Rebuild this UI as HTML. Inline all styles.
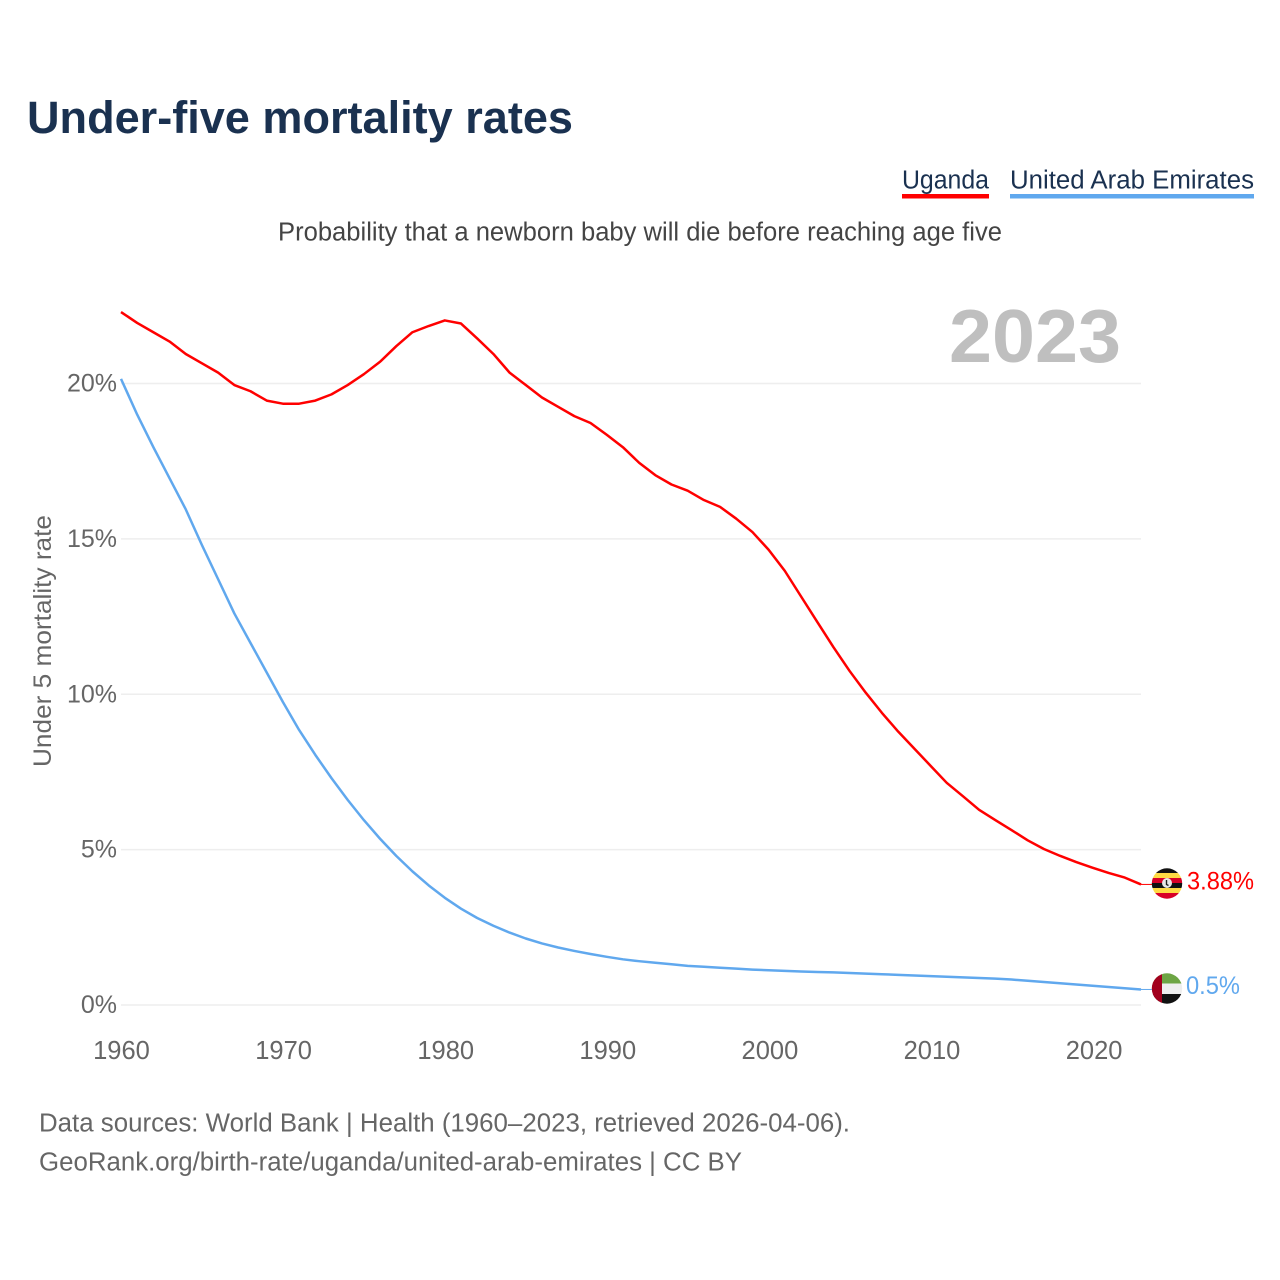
<!DOCTYPE html>
<html lang="en">
<head>
<meta charset="utf-8">
<title>Under-five mortality rates</title>
<style>
html,body{margin:0;padding:0;background:#fff;width:1280px;height:1280px;overflow:hidden}
svg{display:block}
text{font-family:"Liberation Sans",sans-serif}
</style>
</head>
<body>
<svg id="chart" xmlns="http://www.w3.org/2000/svg" width="1280" height="1280" viewBox="0 0 1280 1280">
  <defs>
    <clipPath id="clip-ug"><circle cx="1167" cy="883.5" r="15.2"/></clipPath>
    <clipPath id="clip-ae"><circle cx="1167" cy="988.5" r="15.2"/></clipPath>
  </defs>
  <rect width="1280" height="1280" fill="#fff"/>
  <text x="27" y="133" font-size="45" font-weight="700" fill="#1a3150" textLength="546" lengthAdjust="spacingAndGlyphs">Under-five mortality rates</text>

  <text x="902" y="188.5" font-size="25.5" fill="#1a3150" textLength="87" lengthAdjust="spacingAndGlyphs">Uganda</text>
  <rect x="902" y="194" width="87" height="4.5" fill="#ff0000"/>
  <text x="1010" y="188.5" font-size="25.5" fill="#1a3150" textLength="244" lengthAdjust="spacingAndGlyphs">United Arab Emirates</text>
  <rect x="1010" y="194" width="244" height="4.5" fill="#60a8ee"/>

  <text x="278" y="240.5" font-size="25.5" fill="#444444" textLength="724" lengthAdjust="spacingAndGlyphs">Probability that a newborn baby will die before reaching age five</text>

  <text x="949" y="362" font-size="75" font-weight="700" fill="#bfbfbf" textLength="172" lengthAdjust="spacingAndGlyphs">2023</text>

  <g id="grid"></g>
  <g id="y-ticks"></g>
  <g id="x-ticks"></g>

  <text transform="translate(51,767) rotate(-90)" x="0" y="0" font-size="25" fill="#666666" textLength="252" lengthAdjust="spacingAndGlyphs">Under 5 mortality rate</text>

  <g id="series"></g>

  <g clip-path="url(#clip-ug)">
    <rect x="1150" y="867" width="34" height="6" fill="#111111"/>
    <rect x="1150" y="873" width="34" height="5" fill="#ffda44"/>
    <rect x="1150" y="878" width="34" height="5" fill="#d80027"/>
    <rect x="1150" y="883" width="34" height="5" fill="#111111"/>
    <rect x="1150" y="888" width="34" height="5" fill="#ffda44"/>
    <rect x="1150" y="893" width="34" height="7" fill="#d80027"/>
    <circle cx="1167" cy="883" r="5" fill="#e8e8e8"/>
    <path d="M1166.5 880v4.5l2 1" fill="none" stroke="#222222" stroke-width="1.4"/>
  </g>
  <g clip-path="url(#clip-ae)">
    <rect x="1150" y="973" width="34" height="11" fill="#6da544"/>
    <rect x="1150" y="983.5" width="34" height="10.5" fill="#eeeeee"/>
    <rect x="1150" y="994" width="34" height="11" fill="#111111"/>
    <rect x="1150" y="973" width="12" height="32" fill="#a2001d"/>
  </g>

  <text x="1187" y="889.5" font-size="25" fill="#ff0000" textLength="67" lengthAdjust="spacingAndGlyphs">3.88%</text>
  <text x="1186" y="994" font-size="25" fill="#60a8ee" textLength="54" lengthAdjust="spacingAndGlyphs">0.5%</text>

  <text x="39" y="1131.5" font-size="25.5" fill="#666666" textLength="811" lengthAdjust="spacingAndGlyphs">Data sources: World Bank | Health (1960–2023, retrieved 2026-04-06).</text>
  <text x="39" y="1170.5" font-size="25.5" fill="#666666" textLength="703" lengthAdjust="spacingAndGlyphs">GeoRank.org/birth-rate/uganda/united-arab-emirates | CC BY</text>
</svg>
<script>
const startYear = 1960;
const yTickValues = [0, 5, 10, 15, 20];
const yTickLabels = ["0%", "5%", "10%", "15%", "20%"];
const xTickValues = [1960, 1970, 1980, 1990, 2000, 2010, 2020];
const ugandaValues = [22.3,21.95,21.65,21.35,20.95,20.65,20.35,19.95,19.75,19.45,19.35,19.35,19.45,19.65,19.95,20.3,20.7,21.2,21.65,21.85,22.03,21.93,21.45,20.95,20.35,19.95,19.55,19.25,18.95,18.73,18.35,17.95,17.45,17.05,16.75,16.55,16.25,16.03,15.65,15.22,14.65,13.97,13.15,12.33,11.52,10.75,10.05,9.4,8.8,8.25,7.7,7.15,6.72,6.28,5.95,5.63,5.3,5.02,4.8,4.6,4.42,4.25,4.1,3.88];
const uaeValues = [20.15,19.0,17.95,16.95,15.95,14.8,13.7,12.6,11.65,10.7,9.75,8.85,8.05,7.3,6.6,5.95,5.35,4.8,4.3,3.85,3.45,3.1,2.8,2.55,2.33,2.14,1.98,1.85,1.74,1.64,1.55,1.47,1.41,1.36,1.31,1.26,1.23,1.2,1.17,1.14,1.12,1.1,1.08,1.06,1.05,1.03,1.01,0.99,0.97,0.95,0.93,0.91,0.89,0.87,0.85,0.82,0.78,0.74,0.7,0.66,0.62,0.58,0.54,0.5];

const SVGNS = "http://www.w3.org/2000/svg";
const xScale = function (year) { return 121 + (year - 1960) * (1141 - 121) / 63; };
const xLabelScale = function (year) { return 121.5 + (year - 1960) * 16.21; };
const yScale = function (v) { return 1005 - v * (1005 - 383.5) / 20; };

function make(tag, attrs, parent, txt) {
  const el = document.createElementNS(SVGNS, tag);
  for (const k in attrs) el.setAttribute(k, attrs[k]);
  if (txt !== undefined) el.textContent = txt;
  parent.appendChild(el);
  return el;
}

const gridG = document.getElementById("grid");
const yG = document.getElementById("y-ticks");
const xG = document.getElementById("x-ticks");
const seriesG = document.getElementById("series");

yTickValues.forEach(function (v, i) {
  const line = make("line", {x1: 121, x2: 1141, y1: yScale(v), y2: yScale(v), stroke: "#eeeeee", "stroke-width": 1.5}, gridG);
  
  
  const label = make("text", {x: 117, y: yScale(v) + 8, "text-anchor": "end", "font-size": 25, fill: "#666666"}, yG, yTickLabels[i]);
  
  
});

xTickValues.forEach(function (yr) {
  const label = make("text", {x: xLabelScale(yr), y: 1059, "text-anchor": "middle", "font-size": 25.5, fill: "#666666"}, xG, String(yr));
  
  
});

function linePoints(values) {
  return values.map(function (v, i) {
    return xScale(startYear + i).toFixed(2) + "," + yScale(v).toFixed(2);
  }).join(" ");
}

const ugLine = make("polyline", {points: linePoints(ugandaValues), fill: "none", stroke: "#ff0000", "stroke-width": 2.5, "stroke-linejoin": "round"}, seriesG);



const uaeLine = make("polyline", {points: linePoints(uaeValues), fill: "none", stroke: "#60a8ee", "stroke-width": 2.5, "stroke-linejoin": "round"}, seriesG);



const ugLast = ugandaValues[ugandaValues.length - 1];
const uaeLast = uaeValues[uaeValues.length - 1];

const ugLead = make("line", {x1: xScale(2023), x2: 1152, y1: yScale(ugLast), y2: yScale(ugLast), stroke: "#ff0000", "stroke-width": 1}, seriesG);



const uaeLead = make("line", {x1: xScale(2023), x2: 1152, y1: yScale(uaeLast), y2: yScale(uaeLast), stroke: "#60a8ee", "stroke-width": 1}, seriesG);


</script>
</body>
</html>
